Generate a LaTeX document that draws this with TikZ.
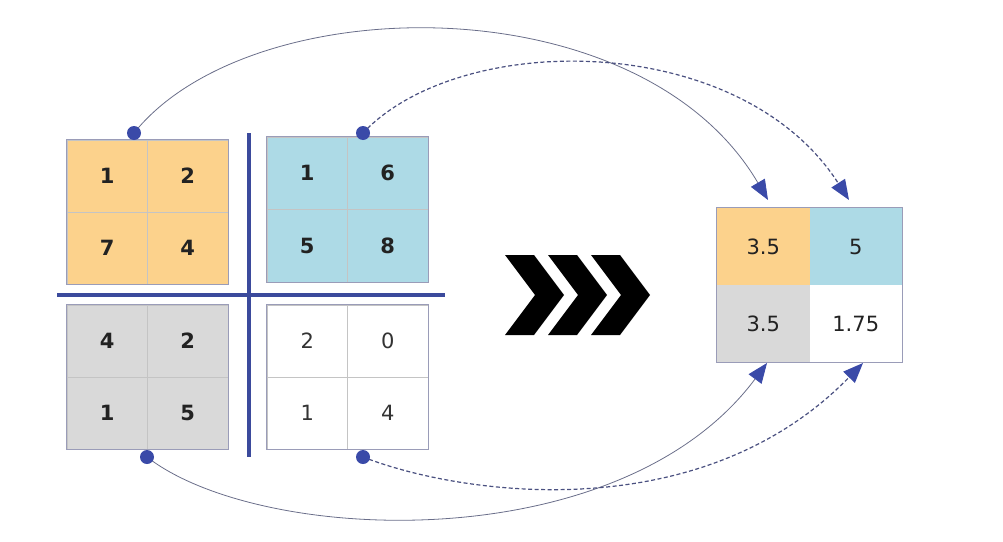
\documentclass[tikz,border=0pt]{standalone}
\usepackage{fontspec}
\setmainfont{DejaVu Sans}
\usetikzlibrary{arrows.meta,backgrounds}
\definecolor{cOrange}{HTML}{FCD28C}
\definecolor{cBlue}{HTML}{ADDAE6}
\definecolor{cGray}{HTML}{D9D9D9}
\definecolor{cBar}{HTML}{3B4A9C}
\definecolor{cDot}{HTML}{3A4AA8}
\definecolor{cLine}{HTML}{6A6E8A}
\definecolor{cDash}{HTML}{4A5080}
\definecolor{cGrid}{HTML}{C4C4C4}
\definecolor{cFrame}{HTML}{9A9CB8}
\definecolor{cText}{HTML}{222222}
\tikzset{
  cell/.style={minimum width=80.5pt, minimum height=72pt, inner sep=0pt,
    draw=cGrid, line width=0.6pt, text=cText,
    font=\fontsize{21}{25}\selectfont\bfseries},
  lightcell/.style={cell, fill=white, text=black!80,
    font=\fontsize{21}{25}\selectfont},
  rescell/.style={minimum width=92.5pt, minimum height=77pt, inner sep=0pt,
    draw=none, text=cText, font=\fontsize{21}{25}\selectfont},
  frame/.style={draw=cFrame, line width=0.8pt},
  bar/.style={draw=cBar, line width=4pt},
  dotn/.style={circle, fill=cDot, minimum size=14pt, inner sep=0pt},
  tipstyle/.style={-{Triangle[length=20pt,width=16pt,color=cDot,fill=cDot]}},
  solidc/.style={tipstyle, draw=cLine, line width=0.8pt},
  dashc/.style={tipstyle, draw=cDash, line width=1.2pt, dash pattern=on 4pt off 2.5pt},
  chev/.style={fill=black, draw=none}
}
\begin{document}
\begin{tikzpicture}[x=1pt,y=-1pt]
\useasboundingbox (0,0) rectangle (1003,541);

% orange block
\node[cell, fill=cOrange] (o11) at (107.25,176) {1};
\node[cell, fill=cOrange] (o12) at (187.75,176) {2};
\node[cell, fill=cOrange] (o21) at (107.25,248) {7};
\node[cell, fill=cOrange] (o22) at (187.75,248) {4};
\draw[frame] (o11.north west) rectangle (o22.south east);

% blue block
\node[cell, fill=cBlue, minimum height=72.5pt] (b11) at (307.25,173.25) {1};
\node[cell, fill=cBlue, minimum height=72.5pt] (b12) at (387.75,173.25) {6};
\node[cell, fill=cBlue, minimum height=72.5pt] (b21) at (307.25,245.75) {5};
\node[cell, fill=cBlue, minimum height=72.5pt] (b22) at (387.75,245.75) {8};
\draw[frame] (b11.north west) rectangle (b22.south east);

% gray block
\node[cell, fill=cGray] (g11) at (107.25,341) {4};
\node[cell, fill=cGray] (g12) at (187.75,341) {2};
\node[cell, fill=cGray] (g21) at (107.25,413) {1};
\node[cell, fill=cGray] (g22) at (187.75,413) {5};
\draw[frame] (g11.north west) rectangle (g22.south east);

% white block
\node[lightcell] (w11) at (307.25,341) {2};
\node[lightcell] (w12) at (387.75,341) {0};
\node[lightcell] (w21) at (307.25,413) {1};
\node[lightcell] (w22) at (387.75,413) {4};
\draw[frame] (w11.north west) rectangle (w22.south east);

% separating bars
\coordinate (vt) at (249,133);
\coordinate (vb) at (249,457);
\coordinate (hl) at (57,295);
\coordinate (hr) at (445,295);
\draw[bar] (vt) -- (vb);
\draw[bar] (hl) -- (hr);

% result block
\node[rescell, fill=cOrange] (r11) at (763.25,246.5) {3.5};
\node[rescell, fill=cBlue] (r12) at (855.75,246.5) {5};
\node[rescell, fill=cGray] (r21) at (763.25,323.5) {3.5};
\node[rescell, fill=white] (r22) at (855.75,323.5) {1.75};
\draw[frame] (r11.north west) rectangle (r22.south east);

% chevrons
\foreach \x in {505,548,591}{
  \fill[chev] (\x,255) -- (\x+29,255) -- (\x+59,295) -- (\x+29,335) -- (\x,335) -- (\x+30,295) -- cycle;
}

% dots
\node[dotn] (dA) at (134,133) {};
\node[dotn] (dB) at (363,133) {};
\node[dotn] (dC) at (147,457) {};
\node[dotn] (dD) at (363,457) {};

% arrow targets
\coordinate (tA) at (768,200);
\coordinate (tB) at (849,200);
\coordinate (tC) at (767,363);
\coordinate (tD) at (863,363);

% connectors (behind the dots)
\begin{scope}[on background layer]
\draw[solidc] (dA.center) .. controls (250,-12) and (640,-18) .. (tA);
\draw[dashc] (dB.center) .. controls (460,30) and (740,30) .. (tB);
\draw[solidc] (dC.center) .. controls (260,545) and (620,560) .. (tC);
\draw[dashc] (dD.center) .. controls (460,495) and (700,530) .. (tD);
\end{scope}
\end{tikzpicture}
\end{document}
